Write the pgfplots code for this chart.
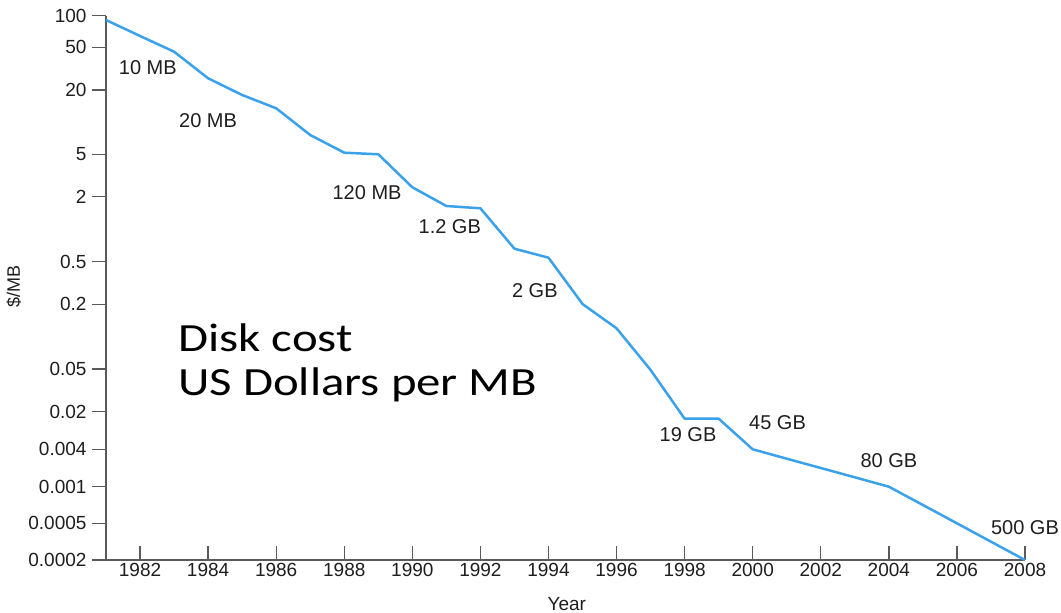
\documentclass[border=0pt]{standalone}
\usepackage{graphicx}
\usepackage{pgfplots}
\pgfplotsset{compat=1.18}
\usepackage{fontspec}
\setmainfont{Liberation Sans}
\newfontfamily\carlito{Carlito}
\definecolor{axisgray}{HTML}{5A5A5A}
\definecolor{lineblue}{HTML}{3AA2EA}
\definecolor{labelgray}{HTML}{1E1E1E}
\begin{document}
\begin{tikzpicture}
\path[use as bounding box] (-106bp,-53bp) rectangle (955bp,560bp);
\begin{axis}[
  at={(0,0)}, anchor=south west,
  scale only axis, width=919bp, height=544.3bp,
  xmin=1981, xmax=2008, ymin=0, ymax=544.3,
  clip=false,
  axis x line=bottom, axis y line=left,
  axis line style={axisgray, line width=1.3bp, -},
  xtick align=inside, ytick align=outside,
  major tick length=14bp,
  tick style={axisgray, line width=1.3bp},
  xtick={1982,1984,1986,1988,1990,1992,1994,1996,1998,2000,2002,2004,2006,2008},
  xticklabels={1982,1984,1986,1988,1990,1992,1994,1996,1998,2000,2002,2004,2006,2008},
  ytick={0,36.7,73.3,110.7,148.3,191,255.7,298.3,363.3,405.7,470,512.7,544.3},
  yticklabels={0.0002,0.0005,0.001,0.004,0.02,0.05,0.2,0.5,2,5,20,50,100},
  /pgf/number format/assume math mode=true,
  ticklabel style={font=\fontsize{19bp}{22bp}\selectfont, text=labelgray},
  yticklabel style={xshift=-2bp},
  xlabel={Year},
  ylabel={\$/MB},
  every axis x label/.style={at={(axis cs:1994.54,-44.5)}, anchor=center, font=\fontsize{19bp}{22bp}\selectfont, text=labelgray},
  every axis y label/.style={at={(axis cs:1978.29,273.5)}, anchor=center, rotate=90, font=\fontsize{18bp}{21bp}\selectfont, text=labelgray},
]
\addplot[lineblue, line width=2.5bp, line join=round] coordinates {
  (1981,540) (1982,524) (1983,508.3) (1984,481.7) (1985,465) (1986,451.7)
  (1987,425) (1988,407.3) (1989,405.7) (1990,372.7) (1991,354) (1992,351.7)
  (1993,311.3) (1994,302.3) (1995,256) (1996,231.7) (1997,190) (1998,141.3)
  (1999,141.3) (2000,110.7) (2001,101.3) (2002,92) (2003,82.7) (2004,73.3)
  (2005,55) (2006,36.7) (2007,18.3) (2008,0)
};
\begin{scope}[every node/.style={font=\fontsize{20bp}{24bp}\selectfont, text=labelgray, anchor=center}]
\node at (axis cs:1982.23,492) {10 MB};
\node at (axis cs:1984.0,439) {20 MB};
\node at (axis cs:1988.67,367.5) {120 MB};
\node at (axis cs:1991.1,333.7) {1.2 GB};
\node at (axis cs:1993.6,269) {2 GB};
\node at (axis cs:1998.1,125.5) {19 GB};
\node at (axis cs:2000.73,137.3) {45 GB};
\node at (axis cs:2004.0,99) {80 GB};
\node at (axis cs:2008.0,32) {500 GB};
\end{scope}
\node[anchor=base west, inner sep=0, font=\carlito\fontsize{40bp}{44bp}\selectfont] at (axis cs:1983.124,208.3) {\scalebox{1.22}[1]{Disk cost}};
\node[anchor=base west, inner sep=0, font=\carlito\fontsize{40bp}{44bp}\selectfont] at (axis cs:1983.124,164) {\scalebox{1.22}[1]{US Dollars per MB}};
\end{axis}
\end{tikzpicture}
\end{document}
